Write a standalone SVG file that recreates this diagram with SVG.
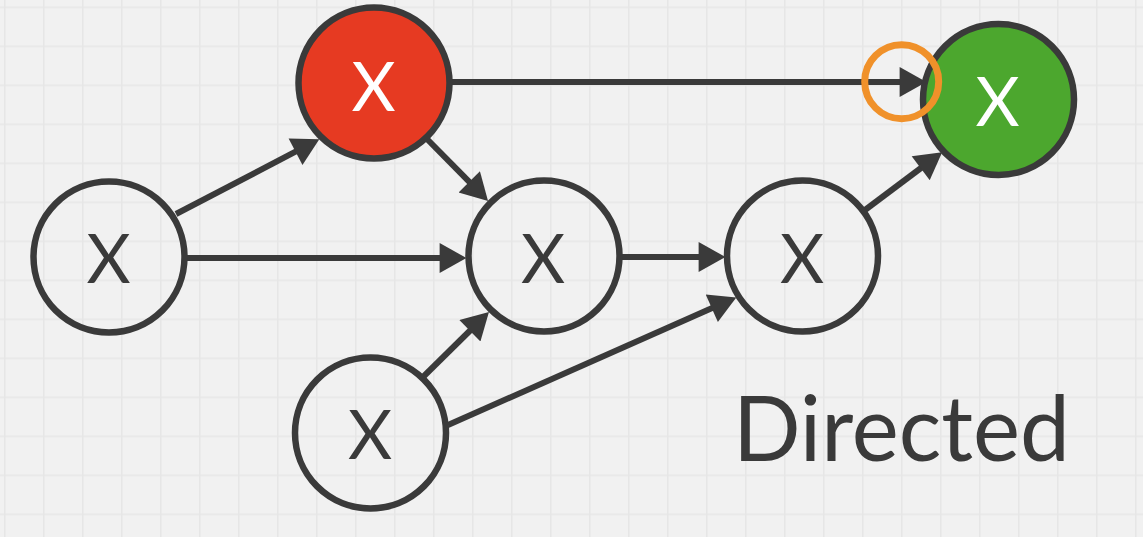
<svg xmlns="http://www.w3.org/2000/svg" width="1143" height="537" viewBox="0 0 1143 537">
<style>
.node{fill:none;stroke:#3a3a3a;stroke-width:6.5}
.lbl{font-family:Lato,"Liberation Sans",sans-serif;font-weight:400;font-size:68px;text-anchor:middle;fill:#3a3a3a}
.w{fill:#ffffff}
.edge{stroke:#3a3a3a;stroke-width:6;fill:none;marker-end:url(#ah)}
</style>
<defs>
<pattern id="grid" x="4" y="6.5" width="39" height="39" patternUnits="userSpaceOnUse">
<rect width="39" height="39" fill="#f1f1f1"/>
<path d="M0 0.5H39M0.5 0V39" stroke="#e6e6e6" stroke-width="2"/>
</pattern>
<marker id="ah" markerUnits="userSpaceOnUse" markerWidth="30" markerHeight="30" viewBox="0 0 26 28" refX="5" refY="14" orient="auto">
<path d="M0 0L25 14L0 28Z" fill="#3a3a3a"/>
</marker>
</defs>
<rect width="1143" height="537" fill="url(#grid)"/>
<g id="connectors">
<line class="edge" x1="176" y1="214" x2="300.3" y2="149.2"/>
<line class="edge" x1="427" y1="139" x2="473" y2="185.7"/>
<line class="edge" x1="187" y1="258" x2="445" y2="258"/>
<line class="edge" x1="622" y1="257" x2="704" y2="257"/>
<line class="edge" x1="865" y1="210" x2="925" y2="165"/>
<line class="edge" x1="452" y1="82" x2="905" y2="82"/>
<line class="edge" x1="423" y1="377" x2="473.7" y2="327"/>
<line class="edge" x1="448" y1="425" x2="716.7" y2="306.1"/>
</g>
<g id="node-left"><circle class="node" cx="109" cy="257" r="75.5"/><text class="lbl" x="108.5" y="283">X</text></g>
<g id="node-red"><circle class="node" cx="374" cy="83" r="75.5" style="fill:#e63a22"/><text class="lbl w" x="373.5" y="111">X</text></g>
<g id="node-middle"><circle class="node" cx="544" cy="256" r="75.5"/><text class="lbl" x="543" y="283">X</text></g>
<g id="node-right"><circle class="node" cx="802.5" cy="256" r="75.5"/><text class="lbl" x="802" y="283">X</text></g>
<g id="node-bottom"><circle class="node" cx="370.5" cy="433" r="75.5"/><text class="lbl" x="370" y="459">X</text></g>
<g id="node-green"><circle class="node" cx="998.5" cy="99.5" r="75.5" style="fill:#4ca72e"/><text class="lbl w" x="997.5" y="126">X</text></g>
<g id="highlight"><circle cx="901.7" cy="81.7" r="37" fill="none" stroke="#f0912a" stroke-width="7"/></g>
<g id="title"><text x="733" y="461" font-family="Lato,'Liberation Sans',sans-serif" font-weight="400" font-size="92" fill="#3a3a3a" textLength="337" lengthAdjust="spacingAndGlyphs">Directed</text></g>
</svg>
